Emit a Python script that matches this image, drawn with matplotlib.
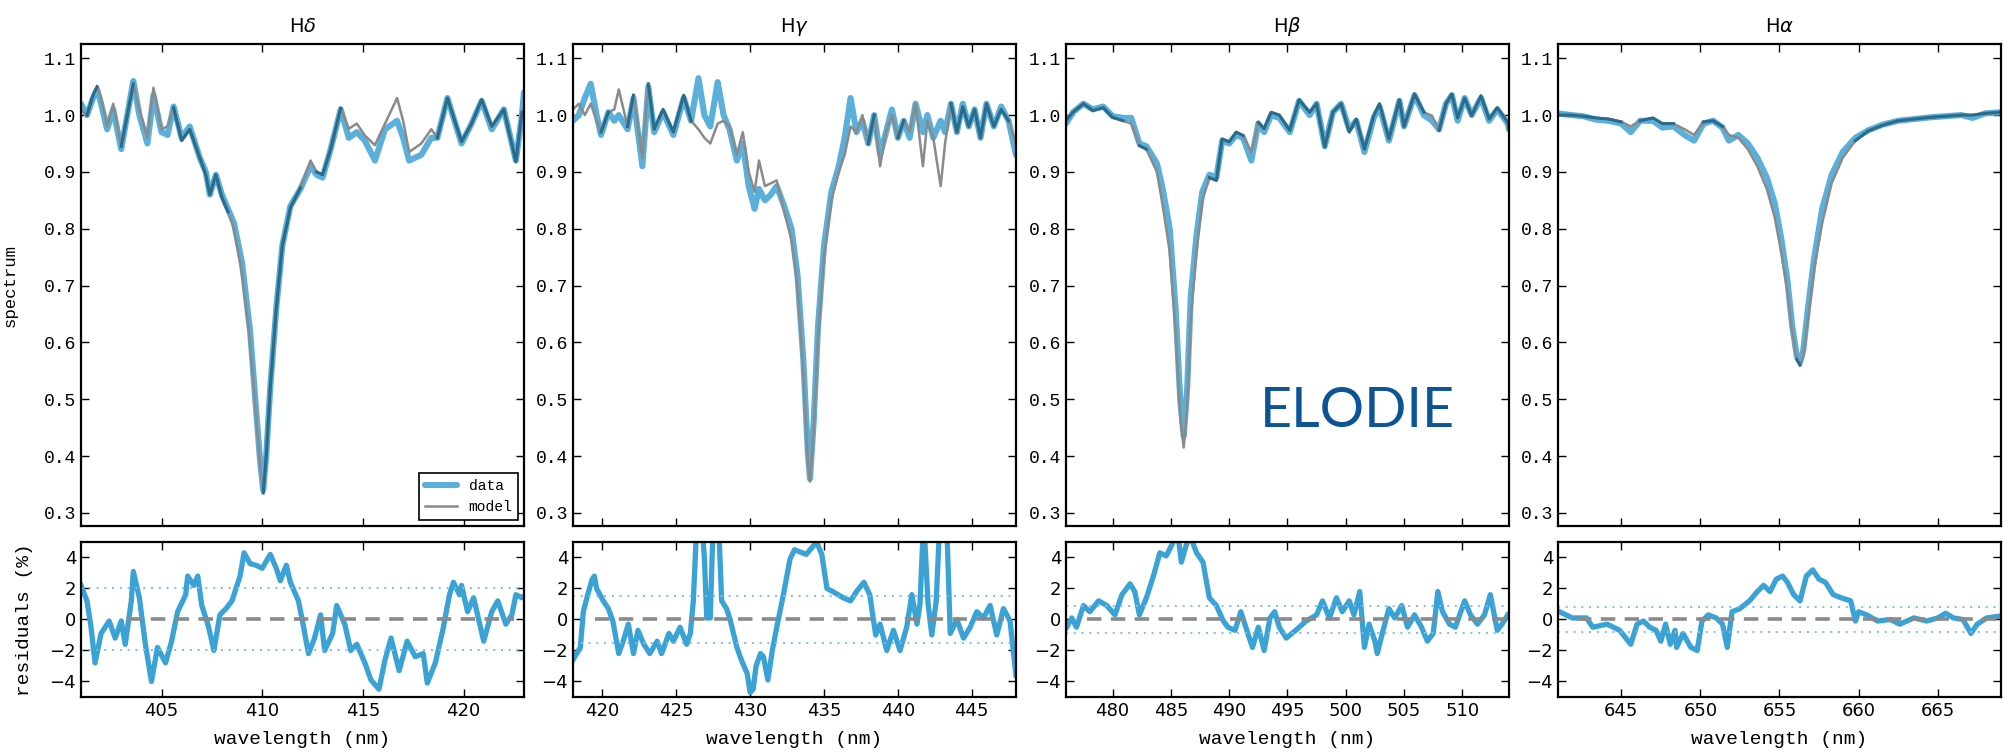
import matplotlib
matplotlib.use('Agg')
import matplotlib.pyplot as plt
from matplotlib.ticker import MultipleLocator
import numpy as np

# ---------------- H-delta ----------------
hd_wl = [401.0, 401.3, 401.6, 401.8, 402.0, 402.3, 402.6, 403.0, 403.3, 403.6,
         403.9, 404.3, 404.6, 405.0, 405.3, 405.6, 406.0, 406.4, 406.9, 407.2,
         407.4, 407.7, 408.0, 408.3, 408.6, 409.0, 409.4, 409.7, 409.9, 410.05,
         410.2, 410.4, 410.7, 411.0, 411.4, 411.9, 412.4, 412.7, 413.0, 413.4,
         413.9, 414.3, 414.7, 415.1, 415.6, 416.1, 416.7, 417.0, 417.3, 417.9,
         418.4, 418.7, 419.2, 419.9, 420.4, 420.9, 421.4, 422.0, 422.6, 422.9, 423.0]
hd_data = [1.02, 1.0, 1.03, 1.045, 1.02, 0.975, 1.01, 0.94, 1.0, 1.06,
           1.0, 0.95, 1.035, 0.97, 0.965, 1.015, 0.96, 0.98, 0.925, 0.9,
           0.86, 0.895, 0.86, 0.835, 0.81, 0.74, 0.62, 0.48, 0.39, 0.34,
           0.4, 0.52, 0.66, 0.77, 0.84, 0.87, 0.91, 0.895, 0.89, 0.94,
           1.01, 0.96, 0.97, 0.955, 0.92, 0.975, 0.99, 0.96, 0.92, 0.93,
           0.96, 0.96, 1.03, 0.95, 0.985, 1.025, 0.975, 1.01, 0.92, 1.0, 1.04]
hd_model = [1.01, 1.0, 1.035, 1.05, 1.03, 0.98, 1.02, 0.945, 1.0, 1.055,
            1.01, 0.96, 1.048, 0.975, 0.98, 1.013, 0.955, 0.975, 0.925, 0.895,
            0.86, 0.895, 0.855, 0.83, 0.8, 0.72, 0.6, 0.47, 0.38, 0.335,
            0.4, 0.52, 0.66, 0.77, 0.837, 0.872, 0.92, 0.9, 0.895, 0.94,
            1.012, 0.976, 0.985, 0.964, 0.947, 0.985, 1.03, 0.99, 0.935, 0.95,
            0.975, 0.96, 1.03, 0.953, 0.985, 1.027, 0.98, 1.01, 0.918, 1.005, 1.01]
hd_res_wl = [401.0, 401.3, 401.5, 401.7, 402.0, 402.4, 402.7, 403.0, 403.2, 403.5,
             403.6, 403.9, 404.2, 404.5, 404.8, 405.2, 405.5, 405.8, 406.2, 406.3,
             406.6, 406.8, 407.0, 407.3, 407.5, 407.6, 407.9, 408.2, 408.5, 408.9,
             409.1, 409.4, 409.7, 410.0, 410.4, 410.7, 410.9, 411.2, 411.4, 411.8,
             412.0, 412.3, 412.6, 412.9, 413.1, 413.5, 413.7, 414.1, 414.4, 414.7,
             415.1, 415.4, 415.8, 416.1, 416.4, 416.8, 417.2, 417.6, 418.0, 418.2,
             418.6, 419.0, 419.3, 419.5, 419.8, 419.9, 420.2, 420.5, 421.0, 421.4,
             421.7, 422.1, 422.4, 422.6, 422.9, 423.0]
hd_res = [2.2, 1.2, -0.5, -2.8, -0.9, -0.1, -1.2, -0.1, -1.6, 1.2,
          3.1, 1.4, -1.6, -4.0, -1.8, -2.8, -1.4, 0.5, 1.6, 2.8,
          2.2, 2.8, 0.9, -0.3, -1.4, -2.0, 0.3, 0.7, 1.2, 2.8,
          4.3, 3.6, 3.5, 3.3, 4.2, 3.3, 2.5, 3.5, 2.4, 1.2,
          -0.1, -2.2, -1.2, 0.3, -2.0, -0.9, 0.9, -0.3, -2.0, -1.6,
          -2.8, -3.9, -4.5, -2.6, -1.2, -3.3, -1.4, -2.4, -2.2, -4.1,
          -2.8, -0.5, 1.6, 2.4, 1.6, 2.2, 0.5, 1.4, -1.4, 0.5,
          1.2, -0.3, 0.3, 1.6, 1.4, 1.5]

# ---------------- H-gamma ----------------
hg_wl = [418.0, 418.4, 418.8, 419.2, 419.6, 419.9, 420.4, 420.8, 421.1, 421.7,
         422.1, 422.7, 423.1, 423.5, 424.1, 424.8, 425.5, 426.0, 426.5, 426.9,
         427.3, 427.8, 428.2, 428.6, 429.1, 429.5, 429.9, 430.3, 430.6, 431.0,
         431.4, 431.8, 432.3, 432.8, 433.2, 433.6, 433.9, 434.05, 434.3, 434.6,
         435.0, 435.5, 436.0, 436.4, 436.8, 437.2, 437.6, 438.0, 438.4, 438.8,
         439.2, 439.6, 440.0, 440.4, 440.8, 441.2, 441.7, 442.0, 442.4, 442.9,
         443.2, 443.6, 444.0, 444.4, 444.8, 445.2, 445.6, 446.0, 446.5, 447.0,
         447.5, 448.0]
hg_data = [0.99, 1.0, 1.03, 1.055, 1.0, 0.965, 1.005, 0.99, 1.0, 0.975,
           1.03, 0.91, 1.05, 0.97, 1.005, 0.965, 1.03, 0.99, 1.065, 1.0,
           0.98, 1.058, 1.0, 0.975, 0.92, 0.95, 0.875, 0.835, 0.87, 0.85,
           0.86, 0.875, 0.84, 0.80, 0.72, 0.57, 0.41, 0.36, 0.46, 0.63,
           0.77, 0.865, 0.91, 0.96, 1.03, 0.97, 0.99, 0.95, 1.0, 0.93,
           0.97, 1.01, 0.96, 0.99, 0.96, 1.02, 0.97, 1.0, 0.96, 0.99,
           0.97, 1.02, 0.97, 1.02, 0.98, 1.01, 0.96, 1.02, 0.98, 1.015,
           0.99, 0.93]
hg_model = [1.01, 1.02, 1.0, 1.02, 0.99, 0.97, 1.005, 1.01, 1.045, 0.98,
            1.035, 0.925, 1.055, 0.975, 1.01, 0.97, 1.035, 0.99, 0.975, 0.96,
            0.95, 0.985, 0.99, 0.98, 0.93, 0.97, 0.9, 0.865, 0.92, 0.875,
            0.88, 0.885, 0.83, 0.78, 0.7, 0.55, 0.39, 0.355, 0.44, 0.61,
            0.75, 0.85, 0.9, 0.93, 0.98, 0.97, 1.0, 0.95, 1.0, 0.91,
            0.97, 1.0, 0.96, 0.99, 0.97, 1.02, 0.91, 0.99, 0.96, 0.875,
            0.95, 1.02, 0.97, 1.015, 0.98, 1.01, 0.96, 1.02, 0.98, 1.01,
            0.99, 0.95]
hg_res_wl = [418.0, 418.5, 418.7, 419.0, 419.3, 419.45, 419.6, 420.05, 420.4, 420.7,
             421.1, 421.4, 421.75, 422.1, 422.4, 422.8, 423.2, 423.7, 424.0, 424.5,
             424.8, 425.25, 425.7, 425.95, 426.15, 426.4, 426.7, 426.9, 427.06, 427.3,
             427.5, 427.85, 428.07, 428.4, 428.64, 429.1, 429.4, 429.8, 430.0, 430.2,
             430.4, 430.7, 430.9, 431.2, 431.5, 431.8, 432.25, 432.7, 433.0, 433.8,
             434.5, 434.85, 435.2, 435.6, 436.3, 436.8, 437.2, 437.7, 438.1, 438.5,
             438.8, 439.25, 439.7, 440.15, 440.6, 440.95, 441.3, 441.5, 441.75, 442.05,
             442.3, 442.6, 442.85, 443.3, 443.55, 444.0, 444.45, 444.9, 445.35, 445.8,
             446.25, 446.7, 447.15, 447.6, 448.0]
hg_res = [-2.6, -1.8, 0.5, 1.6, 2.6, 2.8, 2.0, 1.2, 0.7, -0.1,
          -2.2, -1.4, -0.3, -2.2, -0.7, -1.6, -2.2, -1.4, -2.2, -0.9,
          -1.4, -0.5, -1.6, -0.9, 1.2, 6.5, 6.5, 4.0, 0.1, 0.1,
          6.5, 6.5, 1.2, 0.7, 0.0, -1.8, -2.6, -3.5, -4.7, -4.5,
          -3.0, -2.2, -2.4, -3.9, -2.0, -0.5, 1.6, 3.9, 4.5, 4.2,
          5.0, 4.2, 2.0, 1.8, 1.4, 1.2, 1.8, 2.4, 1.6, -1.0,
          -0.3, -2.0, -0.7, -2.0, -0.5, 1.6, -0.3, 1.0, 6.5, 1.0,
          -1.0, 1.2, 6.5, 6.5, -0.9, 0.0, -1.2, -0.5, 0.5, 0.1,
          0.9, -1.0, 0.7, -0.1, -3.6]

# ---------------- H-beta ----------------
hb_wl = [476.0, 476.6, 477.5, 478.3, 479.2, 480.0, 480.9, 481.6, 482.3, 482.9,
         483.8, 484.3, 484.9, 485.4, 485.8, 486.1, 486.4, 486.7, 487.2, 487.7,
         488.3, 488.9, 489.4, 490.0, 490.6, 491.2, 491.9, 492.5, 493.0, 493.6,
         494.3, 495.2, 496.0, 496.9, 497.5, 498.2, 498.9, 499.6, 500.3, 500.9,
         501.6, 502.4, 502.9, 503.7, 504.6, 505.0, 505.9, 506.7, 507.4, 508.0,
         508.6, 509.1, 509.6, 510.2, 510.8, 511.6, 512.3, 513.0, 513.9, 514.0]
hb_data = [0.985, 1.005, 1.02, 1.01, 1.015, 0.998, 0.995, 0.995, 0.95, 0.945,
           0.915, 0.87, 0.8, 0.66, 0.5, 0.435, 0.52, 0.68, 0.79, 0.865,
           0.895, 0.89, 0.955, 0.95, 0.965, 0.96, 0.92, 0.985, 0.97, 1.0,
           0.995, 0.97, 1.025, 1.0, 1.02, 0.945, 1.005, 1.02, 0.975, 0.99,
           0.935, 0.995, 1.015, 0.955, 1.025, 0.98, 1.035, 1.0, 0.99, 0.975,
           1.02, 1.035, 0.99, 1.03, 1.0, 1.03, 0.99, 1.01, 0.985, 0.975]
hb_model = [0.99, 1.005, 1.02, 1.008, 1.013, 0.996, 0.99, 0.985, 0.946, 0.94,
            0.9, 0.84, 0.76, 0.62, 0.47, 0.415, 0.49, 0.64, 0.76, 0.85,
            0.89, 0.885, 0.958, 0.953, 0.97, 0.964, 0.935, 0.987, 0.976, 1.005,
            1.0, 0.973, 1.027, 1.005, 1.02, 0.944, 1.005, 1.02, 0.97, 0.993,
            0.94, 0.999, 1.02, 0.958, 1.027, 0.98, 1.037, 1.005, 0.999, 0.973,
            1.02, 1.037, 0.995, 1.03, 0.999, 1.034, 0.993, 1.013, 0.987, 0.975]
hb_res_wl = [476.06, 476.5, 476.9, 477.5, 478.05, 478.8, 479.5, 480.2, 480.8, 481.5,
             481.9, 482.3, 482.9, 483.5, 484.05, 484.6, 485.2, 485.6, 485.9, 486.2,
             486.6, 487.2, 487.75, 488.3, 488.9, 489.5, 489.9, 490.5, 491.0, 491.6,
             492.0, 492.5, 493.0, 493.5, 493.9, 494.3, 494.9, 495.7, 496.6, 497.5,
             498.0, 498.6, 499.2, 499.7, 500.3, 500.7, 501.2, 501.6, 502.0, 502.5,
             502.7, 503.2, 503.7, 504.2, 504.8, 505.3, 505.9, 506.5, 507.0, 507.5,
             507.9, 508.3, 508.9, 509.4, 510.2, 510.7, 511.3, 511.9, 512.4, 513.0,
             513.4, 513.9]
hb_res = [-0.5, 0.1, -0.5, 0.9, 0.5, 1.2, 0.9, 0.3, 1.6, 2.3,
          1.8, 0.3, 1.4, 2.8, 4.3, 4.1, 5.0, 5.5, 3.7, 4.5,
          5.5, 4.3, 3.7, 1.4, 0.9, -0.1, -0.5, -0.7, 0.5, -0.9,
          -1.8, -0.5, -2.0, 0.1, 0.5, -0.5, -1.2, -0.7, -0.1, 0.3,
          1.2, 0.1, 1.4, 0.5, 1.2, 0.3, 1.8, -1.8, -0.3, -1.4,
          -2.2, -0.7, 0.7, 0.1, 0.9, -0.5, 0.3, -0.5, -1.4, -0.9,
          1.8, 0.5, -0.3, -0.5, 1.2, 0.3, -0.3, 0.3, 1.6, -0.7,
          -0.3, 0.3]

# ---------------- H-alpha ----------------
ha_wl = [641.0, 641.8, 642.6, 643.4, 644.2, 645.0, 645.6, 646.2, 647.0, 647.6,
         648.3, 649.0, 649.6, 650.2, 650.8, 651.4, 651.8, 652.4, 653.0, 653.6,
         654.2, 654.7, 655.1, 655.5, 655.8, 656.1, 656.3, 656.5, 656.8, 657.2,
         657.7, 658.3, 659.0, 659.8, 660.6, 661.5, 662.5, 663.5, 664.5, 665.5,
         666.5, 667.2, 668.0, 669.0]
ha_data = [1.003, 1.0, 0.998, 0.992, 0.99, 0.985, 0.97, 0.99, 0.99, 0.978,
           0.98, 0.965, 0.955, 0.985, 0.99, 0.978, 0.955, 0.965, 0.95, 0.925,
           0.89, 0.845, 0.785, 0.71, 0.63, 0.575, 0.565, 0.585, 0.66, 0.75,
           0.835, 0.895, 0.935, 0.96, 0.973, 0.983, 0.99, 0.993, 0.996, 0.998,
           1.0, 0.995, 1.003, 1.005]
ha_model = [1.0, 1.0, 0.998, 0.995, 0.993, 0.988, 0.98, 0.99, 0.995, 0.985,
            0.985, 0.975, 0.965, 0.988, 0.99, 0.98, 0.965, 0.96, 0.94, 0.91,
            0.87, 0.82, 0.76, 0.69, 0.62, 0.57, 0.56, 0.575, 0.64, 0.73,
            0.81, 0.88, 0.925, 0.955, 0.972, 0.982, 0.99, 0.993, 0.996, 0.998,
            1.0, 1.0, 1.003, 1.005]
ha_res_wl = [641.1, 641.9, 642.8, 643.2, 644.1, 644.5, 644.9, 645.6, 646.0, 646.4,
             646.8, 647.2, 647.5, 647.8, 648.1, 648.4, 648.5, 648.9, 649.4, 649.8,
             650.1, 650.5, 651.0, 651.4, 651.7, 652.0, 652.5, 653.1, 653.6, 654.0,
             654.4, 654.8, 655.2, 655.5, 655.9, 656.3, 656.7, 657.1, 657.5, 657.9,
             658.4, 658.9, 659.5, 659.8, 660.0, 660.5, 661.2, 662.0, 662.6, 663.5,
             664.3, 665.0, 665.5, 666.0, 666.6, 667.1, 667.5, 668.1, 668.8]
ha_res = [0.5, 0.1, 0.1, -0.5, -0.3, -0.5, -0.7, -1.6, -0.3, -0.1,
          -0.5, -0.7, -1.4, -0.3, -1.6, -0.7, -1.8, -0.9, -1.8, -2.0,
          -0.1, 0.3, 0.1, -0.3, -1.8, 0.5, 0.7, 1.2, 1.8, 2.2,
          1.8, 2.6, 2.8, 2.4, 1.6, 1.2, 2.8, 3.2, 2.6, 2.4,
          1.6, 1.4, 1.2, -0.1, 0.5, 0.3, -0.1, 0.0, -0.3, 0.1,
          -0.1, 0.1, 0.4, 0.1, 0.0, -0.9, -0.3, 0.1, 0.2]

titles = [r'H$\delta$', r'H$\gamma$', r'H$\beta$', r'H$\alpha$']
xlims = [(401, 423), (418, 448), (476, 514), (641, 669)]
sigma = [2.0, 1.5, 0.9, 0.8]
zero_span = [(403.3, 422.5), (419.5, 447.2), (477.8, 513.7), (642.2, 668.9)]

panels = [
    (hd_wl, hd_data, hd_model, hd_res_wl, hd_res),
    (hg_wl, hg_data, hg_model, hg_res_wl, hg_res),
    (hb_wl, hb_data, hb_model, hb_res_wl, hb_res),
    (ha_wl, ha_data, ha_model, ha_res_wl, ha_res),
]

C_DATA = '#5ab0db'
C_MODEL = '#8a8a8a'
C_OVER = '#2a6a8a'
C_RES = '#3aa2d4'
MONO = 'Liberation Mono'

fig = plt.figure(figsize=(20.09, 7.54), dpi=100)
lefts = [0.0403, 0.2852, 0.5306, 0.7755]
W = 0.2205

for i, (wl, dat, mod, rwl, res) in enumerate(panels):
    ax = fig.add_axes([lefts[i], 0.3024, W, 0.6392])
    rx = fig.add_axes([lefts[i], 0.0756, W, 0.2056])

    d = np.array(dat)
    m = np.array(mod)
    # where data and model sit on top of each other they look dark teal
    m_over = np.where(np.abs(d - m) <= 0.008, m, np.nan)
    ax.plot(wl, d, color=C_DATA, lw=4.4, solid_capstyle='round', label='data')
    ax.plot(wl, m, color=C_MODEL, lw=1.8, label='model')
    ax.plot(wl, m_over, color=C_OVER, lw=2.2)

    ax.set_xlim(*xlims[i])
    ax.set_ylim(0.277, 1.125)
    ax.xaxis.set_major_locator(MultipleLocator(5))
    ax.set_xticklabels([])
    ax.set_yticks(np.arange(0.3, 1.101, 0.1))
    ax.set_yticklabels([f'{v:.1f}' for v in np.arange(0.3, 1.101, 0.1)],
                       family=MONO, fontsize=13)
    ax.set_title(titles[i], fontsize=14, pad=9)

    rx.plot(rwl, res, color=C_RES, lw=3.8)
    rx.plot(zero_span[i], [0, 0], color=C_MODEL, lw=2.6, ls=(0, (4, 2.6)))
    for s in (sigma[i], -sigma[i]):
        rx.axhline(s, color='#7cc0e4', lw=1.4, ls=(0, (1, 3)))
    rx.set_xlim(*xlims[i])
    rx.set_ylim(-5, 5)
    rx.set_yticks([-4, -2, 0, 2, 4])
    rx.xaxis.set_major_locator(MultipleLocator(5))
    for lab in rx.get_xticklabels() + rx.get_yticklabels():
        lab.set_fontsize(13)
    rx.set_xlabel('wavelength (nm)', family=MONO, fontsize=14, labelpad=8)

    for a in (ax, rx):
        a.tick_params(direction='in', length=6, width=1, top=True, right=True)
        for sp in a.spines.values():
            sp.set_linewidth(1.6)

    if i == 0:
        ax.set_ylabel('spectrum', family=MONO, fontsize=12.5)
        ax.yaxis.set_label_coords(-0.142, 0.5)
        rx.set_ylabel('residuals (%)', family=MONO, fontsize=14)
        rx.yaxis.set_label_coords(-0.108, 0.5)
        leg = ax.legend(loc='lower right', prop={'family': MONO, 'size': 10.5},
                        fancybox=False, framealpha=1, edgecolor='black',
                        handlelength=2.2, borderaxespad=0.4)
        leg.get_frame().set_linewidth(1.2)

fig.text(0.6755, 0.4536, 'ELODIE', fontsize=40, color='#0b5597',
         family='Lato', ha='center', va='center')

fig.savefig('out.png', dpi=100, facecolor='white')
